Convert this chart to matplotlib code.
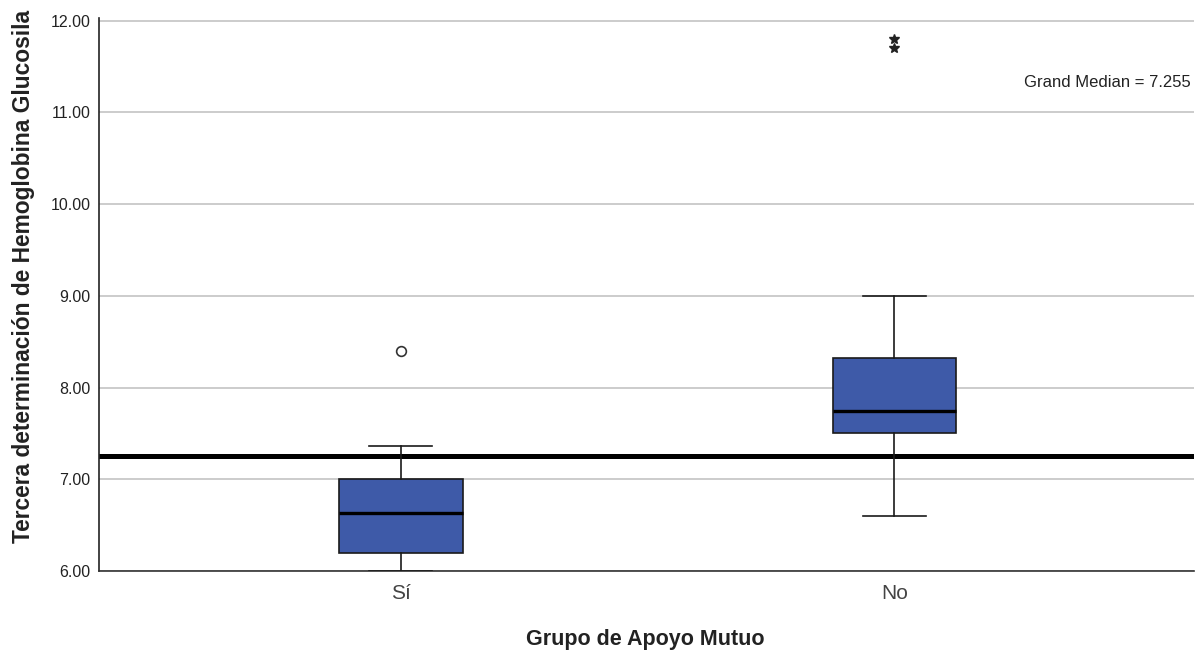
import matplotlib
matplotlib.use("Agg")
import matplotlib.pyplot as plt

# datos (SPSS, mediana global)
grupos = ["Sí", "No"]
q1 = [6.20, 7.50]
mediana = [6.63, 7.75]
q3 = [7.00, 8.32]
bigote_inf = [6.00, 6.60]
bigote_sup = [7.36, 9.00]
atipicos = [[8.40], []]          # círculos
extremos = [[], [11.70, 11.80]]  # asteriscos
mediana_global = 7.255

plt.rcParams['font.family'] = ['Liberation Sans', 'DejaVu Sans']

fig = plt.figure(figsize=(11.98, 6.54), dpi=100)
ax = fig.add_axes([0.0826, 0.1269, 0.914, 0.8456])

stats = []
for i, g in enumerate(grupos):
    stats.append(dict(label=g, q1=q1[i], med=mediana[i], q3=q3[i],
                      whislo=bigote_inf[i], whishi=bigote_sup[i], fliers=[]))

pos = list(range(len(grupos)))
ax.bxp(stats, positions=pos, widths=0.25, capwidths=0.128, patch_artist=True,
       showfliers=False,
       boxprops=dict(facecolor='#3E5AA8', edgecolor='#1a1a1a', linewidth=1.2),
       medianprops=dict(color='black', linewidth=2.4),
       whiskerprops=dict(color='#1a1a1a', linewidth=1.2),
       capprops=dict(color='#1a1a1a', linewidth=1.2), zorder=3)

for i in pos:
    if atipicos[i]:
        ax.plot([i] * len(atipicos[i]), atipicos[i], 'o', mfc='white', mec='#333333',
                ms=7, mew=1.2, zorder=4)
    if extremos[i]:
        ax.plot([i] * len(extremos[i]), extremos[i], '*', color='#222222', ms=7, zorder=4)

ax.axhline(mediana_global, color='black', linewidth=3.6, zorder=2.5)
ax.text(0.997, 0.8825, f"Grand Median = {mediana_global:.3f}", transform=ax.transAxes,
        ha='right', va='center', fontsize=12, color='#222222')

ax.set_xlim(-0.612, 1.6075)
ax.set_ylim(6, 12.03)
ax.set_yticks([6, 7, 8, 9, 10, 11, 12])
ax.set_yticklabels([f"{v:.2f}" for v in [6, 7, 8, 9, 10, 11, 12]])
ax.set_xticks(pos)
ax.set_xticklabels(grupos, fontsize=15, color='#444444')
ax.tick_params(axis='y', length=0, labelsize=11.5, labelcolor='#222222', pad=6)
ax.tick_params(axis='x', length=0, pad=9)

ax.grid(axis='y', color='#c8c8c8', linewidth=1.3, zorder=0)
ax.set_axisbelow(True)
for s in ['top', 'right']:
    ax.spines[s].set_visible(False)
ax.spines['left'].set_color('#222222')
ax.spines['bottom'].set_color('#333333')
ax.spines['left'].set_linewidth(1.2)
ax.spines['bottom'].set_linewidth(1.2)

fig.text(0.539, 0.022, "Grupo de Apoyo Mutuo", ha='center', va='center',
         fontsize=15.5, fontweight='bold', color='#222222')
fig.text(0.0195, 0.577, "Tercera determinación de Hemoglobina Glucosila", rotation=90,
         ha='center', va='center', fontsize=16.4, fontweight='bold', color='#222222')

fig.savefig('out.png', dpi=100)
